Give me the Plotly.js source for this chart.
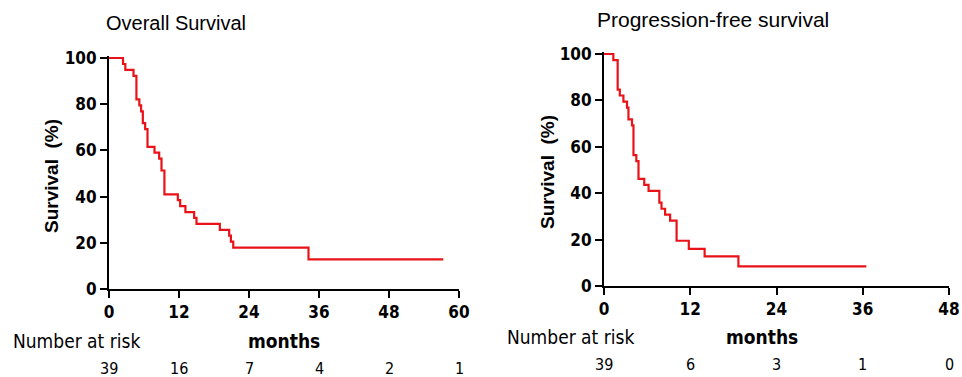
<!DOCTYPE html>
<html>
<head>
<meta charset="utf-8">
<script src="https://cdn.plot.ly/plotly-3.0.1.min.js"></script>
<style>html,body{margin:0;padding:0;background:#fff;}#chart{width:962px;height:377px;}</style>
</head>
<body>
<div id="chart"></div>
<script>
// Overall survival (months, %)
const osTime = [0, 2.4, 2.8, 4.2, 4.7, 5.2, 5.5, 5.8, 6.2, 6.6, 7.8, 8.6, 9.0, 9.5, 11.8, 12.2, 13.1, 14.6, 15.0, 19.0, 20.6, 20.9, 21.3, 34.2, 57.3];
const osSurv = [100, 97.4, 94.9, 92.3, 82.1, 79.5, 76.9, 71.8, 69.2, 61.5, 59.0, 56.4, 51.3, 41.0, 38.5, 35.9, 33.3, 30.8, 28.2, 25.6, 23.1, 20.5, 17.9, 12.8, 12.8];
// Progression-free survival (months, %)
const pfsTime = [0, 1.3, 1.9, 2.2, 2.7, 3.2, 3.4, 3.9, 4.1, 4.5, 4.8, 5.6, 6.2, 7.7, 8.0, 8.5, 9.2, 10.1, 11.8, 14.0, 18.7, 36.5];
const pfsSurv = [100, 97.4, 84.6, 82.1, 79.5, 76.9, 71.8, 69.2, 56.4, 53.8, 46.2, 43.6, 41.0, 35.9, 33.3, 30.8, 28.2, 19.5, 16.0, 12.8, 8.5, 8.5];
// Number at risk
const osRiskTimes = [0, 12, 24, 36, 48, 60];
const osRisk = [39, 16, 7, 4, 2, 1];
const pfsRiskTimes = [0, 12, 24, 36, 48];
const pfsRisk = [39, 6, 3, 1, 0];
const yTicks = [0, 20, 40, 60, 80, 100];

const W = 962, H = 377;
const NARROW = '"DejaVu Sans Condensed", "Liberation Sans", Arial, sans-serif';
const SANS = '"Liberation Sans", Arial, sans-serif';
const RED = 'rgb(232,18,24)';
function px(x){ return x / W; }
function py(y){ return 1 - y / H; }

const traces = [
  {x: osTime, y: osSurv, type: 'scatter', mode: 'lines', line: {shape: 'hv', color: RED, width: 2.2}, xaxis: 'x', yaxis: 'y', hoverinfo: 'skip'},
  {x: pfsTime, y: pfsSurv, type: 'scatter', mode: 'lines', line: {shape: 'hv', color: RED, width: 2.2}, xaxis: 'x2', yaxis: 'y2', hoverinfo: 'skip'}
];

function axisBase(){
  return {
    showgrid: false, zeroline: false, showline: true, linecolor: '#000', linewidth: 2,
    ticks: 'outside', ticklen: 7, tickwidth: 2, tickcolor: '#000',
    tickfont: {family: NARROW, size: 17, color: '#000', weight: 'bold'},
    fixedrange: true
  };
}
const yTop1 = 58 - 0.8 * (231 / 100);
const yTop2 = 54 - 0.8 * (232 / 100);
const xa = Object.assign(axisBase(), {domain: [px(109), px(459)], range: [0, 60], tickvals: osRiskTimes, anchor: 'y'});
const ya = Object.assign(axisBase(), {domain: [py(289), py(yTop1)], range: [0, 100.8], tickvals: yTicks, anchor: 'x'});
const xa2 = Object.assign(axisBase(), {domain: [px(604), px(949)], range: [0, 48], tickvals: pfsRiskTimes, anchor: 'y2'});
const ya2 = Object.assign(axisBase(), {domain: [py(286), py(yTop2)], range: [0, 100.8], tickvals: yTicks, anchor: 'x2'});

const annotations = [];
function txt(text, x, y, opts){
  annotations.push(Object.assign({text: text, x: px(x), y: py(y), xref: 'paper', yref: 'paper', showarrow: false,
    xanchor: 'left', yanchor: 'middle', font: {family: NARROW, size: 17, color: '#000'}}, opts || {}));
}
txt('Overall Survival', 104, 23, {font: {family: SANS, size: 20, color: '#000'}});
txt('Progression-free survival', 595, 20, {font: {family: SANS, size: 21, color: '#000'}});
txt('Survival  (%)', 51, 176, {xanchor: 'center', textangle: -90, font: {family: SANS, size: 19, color: '#000', weight: 'bold'}});
txt('Survival  (%)', 547, 172, {xanchor: 'center', textangle: -90, font: {family: SANS, size: 19, color: '#000', weight: 'bold'}});
txt('Number at risk', 11, 341, {font: {family: NARROW, size: 19, color: '#000'}});
txt('months', 284, 341, {xanchor: 'center', font: {family: NARROW, size: 19, color: '#000', weight: 'bold'}});
txt('Number at risk', 505, 337, {font: {family: NARROW, size: 19, color: '#000'}});
txt('months', 762, 337, {xanchor: 'center', font: {family: NARROW, size: 19, color: '#000', weight: 'bold'}});
osRisk.forEach((v, i) => annotations.push({text: String(v), x: osRiskTimes[i], xref: 'x', y: py(368), yref: 'paper',
  showarrow: false, xanchor: 'center', yanchor: 'middle', borderpad: 0, font: {family: NARROW, size: 16, color: '#000'}}));
pfsRisk.forEach((v, i) => annotations.push({text: String(v), x: pfsRiskTimes[i], xref: 'x2', y: py(364), yref: 'paper',
  showarrow: false, xanchor: 'center', yanchor: 'middle', borderpad: 0, font: {family: NARROW, size: 16, color: '#000'}}));

const layout = {
  width: W, height: H, margin: {l: 0, r: 0, t: 0, b: 0},
  paper_bgcolor: '#fff', plot_bgcolor: '#fff', showlegend: false,
  xaxis: xa, yaxis: ya, xaxis2: xa2, yaxis2: ya2,
  annotations: annotations
};
Plotly.newPlot('chart', traces, layout, {staticPlot: true, displayModeBar: false});
</script>
</body>
</html>
